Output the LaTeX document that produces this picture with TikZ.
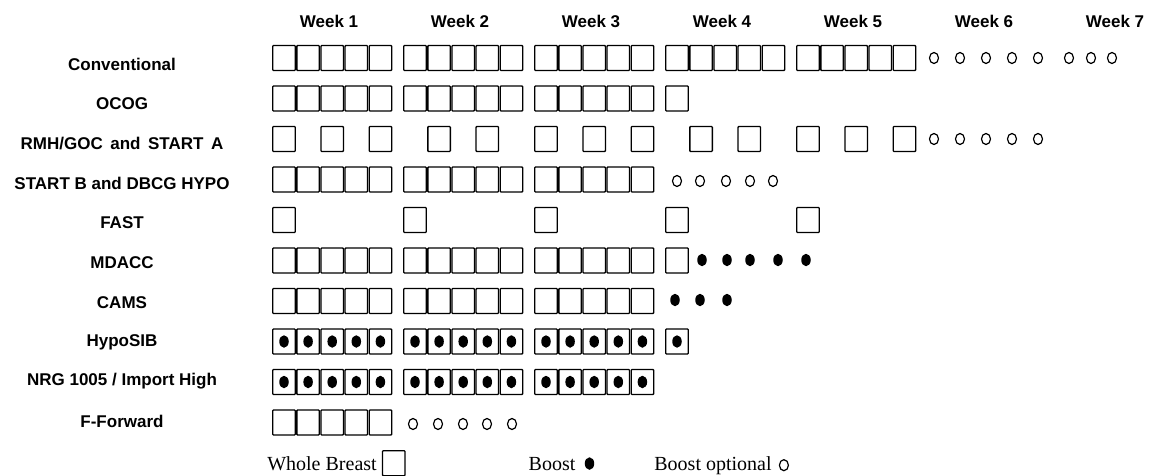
\documentclass[tikz,border=0pt]{standalone}
\usepackage{fontspec}
\setmainfont{Liberation Serif}
\setsansfont{Liberation Sans}
\usetikzlibrary{positioning, shapes.geometric}

\begin{document}
\begin{tikzpicture}[x=1pt, y=-1pt,
    wb/.style={draw, line width=1.3pt, rounded corners=0.8pt, minimum width=22.5pt, minimum height=25pt, inner sep=0pt},
    boost/.style={ellipse, fill, minimum width=9.5pt, minimum height=12.5pt, inner sep=0pt},
    opt/.style={ellipse, draw, line width=1.2pt, minimum width=9pt, minimum height=11pt, inner sep=0pt},
    arm/.style={font=\sffamily\bfseries\fontsize{17}{19}\selectfont},
    week/.style={font=\sffamily\bfseries\fontsize{17}{19}\selectfont},
    leg/.style={font=\fontsize{20}{22}\selectfont, inner sep=0pt, anchor=base}]
    \useasboundingbox (0,0) rectangle (1151,476);

    \foreach \w in {1,...,7}
        \node[week] (week\w) at ({329+131*(\w-1)}, 21) {Week \w};

    \foreach \lab [count=\i from 0] in {Conventional, OCOG, {RMH/GOC\, and\, START\, A}, START B and DBCG HYPO, FAST, MDACC, CAMS, HypoSIB, NRG 1005 / Import High, F-Forward}
        \node[arm] (arm\i) at (122, {64+39.7*\i}) {\lab};

    \foreach \r/\nw in {0/5, 1/3, 3/3, 5/3, 6/3, 7/3, 8/3, 9/1}
        \foreach \w in {1,...,\nw}
            \foreach \k in {1,...,5}
                \node[wb] (b\r-\w-\k) at ({284+131*(\w-1)+24.1*(\k-1)}, {58+40.5*\r}) {};

    \foreach \r/\w in {1/4, 5/4, 7/4, 4/1, 4/2, 4/3, 4/4, 4/5}
        \node[wb] (b\r-\w-1) at ({284+131*(\w-1)}, {58+40.5*\r}) {};

    \foreach \w/\k in {1/1, 1/3, 1/5, 2/2, 2/4, 3/1, 3/3, 3/5, 4/2, 4/4, 5/1, 5/3, 5/5}
        \node[wb] (b2-\w-\k) at ({284+131*(\w-1)+24.1*(\k-1)}, 139) {};

    \foreach \r/\nw in {7/3, 8/3}
        \foreach \w in {1,...,\nw}
            \foreach \k in {1,...,5}
                \node[boost] (d\r-\w-\k) at (b\r-\w-\k) {};
    \node[boost] (d7-4-1) at (b7-4-1) {};

    \foreach \x [count=\i] in {934, 960, 986, 1012, 1038, 1069, 1091, 1112}
        \node[opt] (o0-\i) at (\x, 58) {};
    \foreach \x [count=\i] in {934, 960, 986, 1012, 1038}
        \node[opt] (o2-\i) at (\x, 139) {};
    \foreach \x [count=\i] in {677, 700, 726, 750, 773}
        \node[opt] (o3-\i) at (\x, 181) {};
    \foreach \x [count=\i] in {702, 727, 750, 778, 806}
        \node[boost] (p5-\i) at (\x, 260) {};
    \foreach \x [count=\i] in {675, 700, 727}
        \node[boost] (p6-\i) at (\x, 300) {};
    \foreach \x [count=\i] in {413, 438, 463, 487, 512}
        \node[opt] (o9-\i) at (\x, 424) {};

    \node[leg] (lwb) at (322, 470) {Whole Breast};
    \node[wb, right=5pt of lwb] (lbox) {};
    \node[leg] (lb) at (552, 470) {Boost};
    \node[boost, right=9pt of lb] (ldot) {};
    \node[leg] (lbo) at (713, 470) {Boost optional};
    \node[opt, right=7pt of lbo] (lcirc) {};
\end{tikzpicture}
\end{document}
